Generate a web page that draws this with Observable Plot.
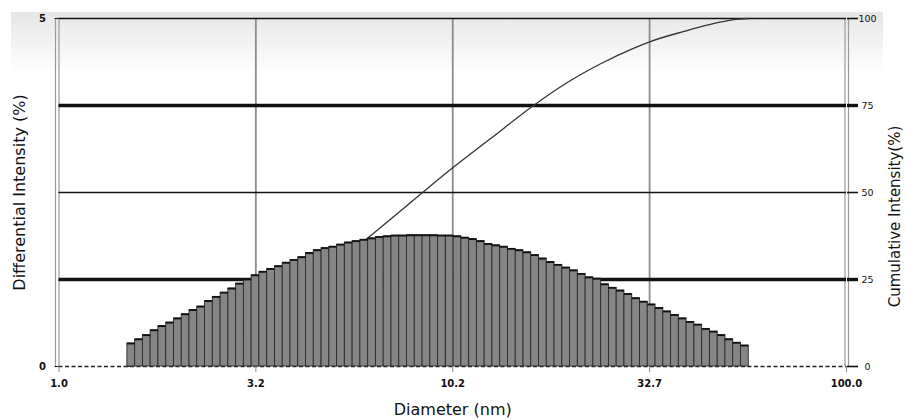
<!DOCTYPE html>
<html><head><meta charset="utf-8">
<script src="https://cdn.jsdelivr.net/npm/d3@7"></script>
<script src="https://cdn.jsdelivr.net/npm/@observablehq/plot@0.6"></script>
<style>body{margin:0;background:#fff}</style>
</head><body><div id="chart"></div>
<script>
// Size classes (bin centres, nm) and differential intensity (%)
const diameters = [1.526,1.597,1.671,1.748,1.830,1.915,2.004,2.097,2.194,2.296,
2.403,2.515,2.632,2.754,2.882,3.016,3.156,3.303,3.456,3.617,
3.785,3.961,4.145,4.337,4.539,4.750,4.970,5.201,5.443,5.696,
5.961,6.238,6.528,6.831,7.149,7.481,7.829,8.193,8.573,8.972,
9.389,9.823,10.28,10.76,11.26,11.78,12.33,12.90,13.50,14.13,
14.78,15.47,16.19,16.94,17.73,18.55,19.42,20.32,21.26,22.25,
23.28,24.37,25.50,26.68,27.92,29.22,30.58,32.00,33.49,35.04,
36.67,38.38,40.16,42.03,43.98,46.03,48.17,50.40,52.74,55.20];
const differential = [0.33,0.39,0.45,0.52,0.58,0.63,0.69,0.75,0.81,0.86,
0.94,1.00,1.06,1.12,1.19,1.25,1.31,1.36,1.40,1.44,
1.49,1.53,1.57,1.63,1.67,1.70,1.72,1.75,1.78,1.80,
1.82,1.84,1.86,1.87,1.88,1.88,1.885,1.885,1.885,1.885,
1.88,1.88,1.87,1.85,1.83,1.80,1.76,1.74,1.72,1.69,
1.67,1.64,1.60,1.55,1.50,1.46,1.42,1.38,1.33,1.28,
1.26,1.18,1.13,1.09,1.04,0.98,0.93,0.89,0.84,0.79,
0.74,0.69,0.64,0.60,0.54,0.50,0.45,0.39,0.34,0.30];
// Cumulative intensity curve (%)
const cumDiameters = [1.491,1.871,2.349,2.947,3.701,4.644,5.829,6.109,6.950,8.364,10.05,12.48,16.04,19.54,23.75,28.86,31.62,38.66,47.01,51.71,56.46];
const cumulative   = [0,2.3,6.0,11.3,18.1,26.0,35.2,37.1,42.3,49.9,57.3,65.5,75.0,81.6,87.0,91.5,93.3,96.3,98.8,99.7,100];
// Axes
const xTickValues = [1, 3.162, 10, 31.62, 100];
const xTickLabels = ["1.0", "3.2", "10.2", "32.7", "100.0"];
const leftTicks = [0, 5];
const rightTicks = [0, 25, 50, 75, 100];
const thinGrid = [100, 50];
const thickGrid = [75, 25];

const bars = diameters.map((c, i) => {
  const prev = i > 0 ? diameters[i - 1] : c * c / diameters[1];
  const next = i < diameters.length - 1 ? diameters[i + 1] : c * c / diameters[i - 1];
  return {lo: Math.sqrt(prev * c), hi: Math.sqrt(c * next), h: differential[i]};
});
const cum = cumDiameters.map((d, i) => ({d, v: cumulative[i] / 20}));

const chart = Plot.plot({
  width: 906, height: 420,
  marginLeft: 58.5, marginRight: 60, marginTop: 18, marginBottom: 54,
  style: {fontFamily: "DejaVu Sans", background: "white", color: "#111"},
  x: {type: "log", domain: [1, 100]},
  y: {domain: [0, 5]},
  marks: [
    Plot.ruleX(xTickValues.slice(1, -1), {stroke: "#8c8c8c", strokeWidth: 1.8}),
    Plot.ruleX([1], {stroke: "#9a9a9a", strokeWidth: 1.2, dx: -3.5}),
    Plot.ruleX([1], {stroke: "#9a9a9a", strokeWidth: 1.2}),
    Plot.ruleX([100], {stroke: "#9a9a9a", strokeWidth: 1.2, dx: -1.5}),
    Plot.ruleX([100], {stroke: "#9a9a9a", strokeWidth: 1.2, dx: 2}),
    Plot.ruleY(thinGrid, {y: d => d / 20, stroke: "#111", strokeWidth: 1.6}),
    Plot.ruleY(thickGrid, {y: d => d / 20, stroke: "#111", strokeWidth: 3.4}),
    Plot.ruleY([0], {stroke: "#222", strokeWidth: 1.6, strokeDasharray: "4,2.5"}),
    Plot.line(cum, {x: "d", y: "v", stroke: "#333", strokeWidth: 1.3, curve: "monotone-x"}),
    Plot.rect(bars, {x1: "lo", x2: "hi", y1: 0, y2: "h", fill: "#858585", stroke: "#2a2a2a", strokeWidth: 0.9}),
    Plot.ruleY(bars, {x1: "lo", x2: "hi", y: "h", stroke: "#111", strokeWidth: 1.8}),
    Plot.axisX({ticks: xTickValues, tickFormat: d => xTickLabels[xTickValues.indexOf(d)], tickSize: 6, tickPadding: 7, stroke: "#888", fontSize: 10, fontWeight: "bold", label: null}),
    Plot.axisY({anchor: "left", ticks: leftTicks, tickFormat: d => String(d), tickSize: 4, tickPadding: 9, fontSize: 10, fontWeight: "bold", label: null}),
    Plot.axisY({anchor: "right", ticks: rightTicks.map(v => v / 20), tickFormat: d => String(Math.round(d * 20)), tickSize: 11, tickPadding: 10, textAnchor: "middle", fontSize: 9.5, strokeWidth: 1.6, label: null}),
    Plot.axisY({anchor: "right", ticks: thickGrid.map(v => v / 20), tickFormat: () => "", tickSize: 11, strokeWidth: 3.4, label: null}),
    Plot.text(["Differential Intensity (%)"], {text: d => d, frameAnchor: "left", textAnchor: "middle", lineAnchor: "middle", dx: -39.5, rotate: -90, fontSize: 16, ariaLabel: "ytitle"}),
    Plot.text(["Cumulative Intensity(%)"], {text: d => d, frameAnchor: "right", textAnchor: "middle", lineAnchor: "middle", dx: 49, dy: 24, rotate: -90, fontSize: 15, ariaLabel: "y2title"}),
    Plot.text(["Diameter (nm)"], {text: d => d, frameAnchor: "bottom", textAnchor: "middle", lineAnchor: "middle", dy: 43, fontSize: 16, ariaLabel: "xtitle"})
  ]
});

// light grey gradient band at the top of the chart
const s = d3.select(chart);
const grad = s.append("defs").append("linearGradient").attr("id", "topfade").attr("x1", 0).attr("y1", 0).attr("x2", 0).attr("y2", 1);
grad.append("stop").attr("offset", "0%").attr("stop-color", "#e6e6e6");
grad.append("stop").attr("offset", "100%").attr("stop-color", "#ffffff");
s.insert("rect", "g").attr("x", 11).attr("y", 12).attr("width", 872).attr("height", 62).attr("fill", "url(#topfade)");
s.selectAll('[aria-label="ytitle"] text').attr("letter-spacing", 1.2);
s.selectAll('[aria-label="y2title"] text').attr("letter-spacing", 2.2);

document.getElementById("chart").appendChild(chart);
</script>
</body></html>
